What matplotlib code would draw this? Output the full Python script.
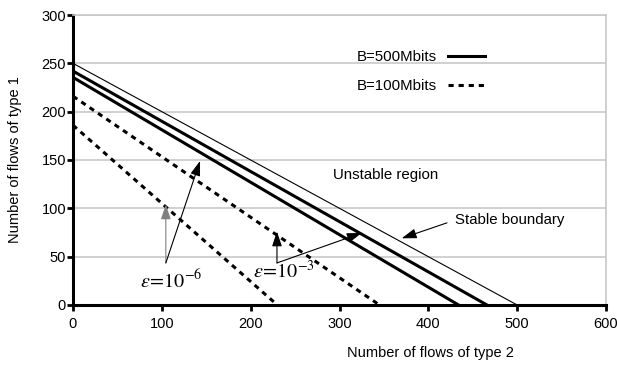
import matplotlib
matplotlib.use("Agg")
import matplotlib.pyplot as plt

plt.rcParams["font.family"] = ["Liberation Sans", "DejaVu Sans"]
plt.rcParams["mathtext.fontset"] = "stix"

# boundary lines: (y-intercept, x-intercept)
stable_boundary = (250, 500)
b500_lines = [(242, 466), (235.5, 434)]
b100_lines = [(216, 345), (186, 230)]

x_ticks = [0, 100, 200, 300, 400, 500, 600]
y_ticks = [0, 50, 100, 150, 200, 250, 300]

# annotation anchors (data units)
eps6_base = (104.5, 43.5)
eps6_tips = [(104.5, 104), (143, 149)]
eps3_base = (229.6, 43.5)
eps3_tips = [(229.6, 76), (325, 74.5)]
stable_tail = (421, 85)
stable_tip = (370, 69)

fig = plt.figure(figsize=(6.17, 3.65), dpi=100)
ax = fig.add_axes([0.1183, 0.1644, 0.8639, 0.7945])

ax.plot([0, stable_boundary[1]], [stable_boundary[0], 0], color="black", lw=0.8)
for i, (y0, x0) in enumerate(b500_lines):
    ax.plot([0, x0], [y0, 0], color="black", lw=2.2,
            label="B=500Mbits" if i == 0 else None)
for i, (y0, x0) in enumerate(b100_lines):
    ax.plot([0, x0], [y0, 0], color="black", lw=2.2, linestyle=(0, (1.7, 1.6)),
            label="B=100Mbits" if i == 0 else None)

ax.set_xlim(0, 600)
ax.set_ylim(0, 300)
ax.set_xticks(x_ticks)
ax.set_yticks(y_ticks)
ax.tick_params(direction="out", length=4, width=2, labelsize=10.5)
ax.tick_params(axis="x", pad=5)
ax.tick_params(axis="y", pad=1)
ax.grid(axis="y", color="#c8c8c8", lw=1.2)
ax.set_axisbelow(True)
for s in ("left", "bottom"):
    ax.spines[s].set_linewidth(2.2)
for s in ("top", "right"):
    ax.spines[s].set_color("#c8c8c8")
    ax.spines[s].set_linewidth(1.2)

ax.set_xlabel("Number of flows of type 2", fontsize=10.5)
ax.set_ylabel("Number of flows of type 1", fontsize=10.5)
ax.xaxis.set_label_coords(0.67, -0.14)
ax.yaxis.set_label_coords(-0.096, 0.5)

ax.legend(loc="upper left", bbox_to_anchor=(0.519, 0.905), frameon=False,
          markerfirst=False, fontsize=10.8, borderpad=0, labelspacing=1.0,
          handlelength=2.5, handletextpad=0.7)

arrow_kw = dict(arrowstyle="-|>,head_length=0.9,head_width=0.3",
                mutation_scale=10, shrinkA=0, shrinkB=0, lw=0.8)

ax.annotate("", xy=eps6_tips[0], xytext=eps6_base,
            arrowprops=dict(color="#808080", **arrow_kw))
ax.annotate("", xy=eps6_tips[1], xytext=eps6_base,
            arrowprops=dict(color="black", **arrow_kw))
ax.annotate("", xy=eps3_tips[0], xytext=eps3_base,
            arrowprops=dict(color="black", **arrow_kw))
ax.annotate("", xy=eps3_tips[1], xytext=eps3_base,
            arrowprops=dict(color="black", **arrow_kw))
ax.annotate("", xy=stable_tip, xytext=stable_tail,
            arrowprops=dict(color="black", **arrow_kw))

ax.text(110, 17.3, r"$\varepsilon\!=\!10^{-6}$", fontsize=14.5, ha="center", va="baseline")
ax.text(237.6, 27.9, r"$\varepsilon\!=\!10^{-3}$", fontsize=14.5, ha="center", va="baseline")
ax.text(292.6, 134.5, "Unstable region", fontsize=10.8, ha="left", va="center")
ax.text(430, 88, "Stable boundary", fontsize=10.8, ha="left", va="center")

fig.savefig("out.png", dpi=100)
